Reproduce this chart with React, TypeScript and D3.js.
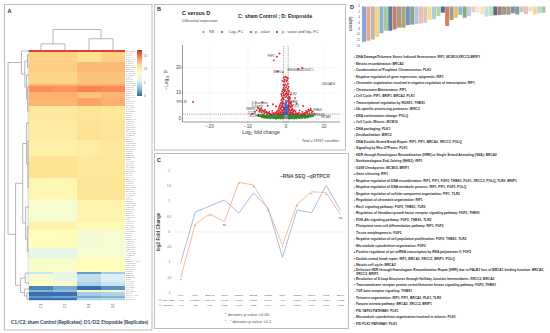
import React, { useEffect, useRef } from 'react';
import * as d3 from 'd3';

// ---- heatmap (panel A)
const heatColumns = ['C1', 'C2', 'D1', 'D2'];
const heatBandRows = [1, 5, 5, 6, 1, 3, 3, 4, 7, 10, 8, 11, 11, 11, 4, 9, 5, 7, 1, 4, 2, 2, 1, 2, 1, 1];
const heatBandC1 = [17, 12.2, 12.3, 12.1, 13.2, 14.6, 13.4, 13.2, 10.9, 10.7, 10.2, 11.4, 9.6, 7.9, 10, 9, 6.6, 8.2, 5, 8, 8.4, 1, 2.5, 0.4, 1.6, 0.4];
const heatBandC2 = [17, 12.2, 12.3, 12.1, 13.2, 14.4, 13.4, 13.2, 10.9, 10.7, 10.2, 11.4, 9.6, 7.9, 10, 9, 6.6, 8.2, 6.6, 6.8, 8.4, 2.2, 3, 0.4, 2, 0.4];
const heatBandD1 = [17, 11.5, 13, 12.7, 13.4, 14.9, 12.7, 13.8, 11.3, 11.5, 10.5, 10.9, 11.1, 9.8, 9.3, 7.7, 7.9, 9, 1.8, 4.6, 4, 0.3, 8.6, 3.6, 2.2, 4];
const heatBandD2 = [17, 12.2, 13, 12.7, 13.4, 14.7, 13.2, 13.4, 10.9, 11.3, 10.9, 10.9, 11.1, 9.8, 9.3, 7.9, 8, 9, 3.6, 5.6, 5, 1.4, 7.6, 4, 2.6, 4.2];
const heatLegendTicks = [0, 5, 10, 15];
const heatStops = ['#2b62ab', '#91bfdb', '#e0f3f8', '#ffffbf', '#fee090', '#fc8d59', '#d73027'];
const heatGenes = ['CCNB1', 'RIF1', 'PIF1', 'KIF4A', 'BRCA2', 'TOP2A', 'FGF2', 'MKI67', 'MCM10', 'CDK1', 'BIRC2', 'AURKB', 'THBS1', 'TTK', 'PLK1', 'BUB1', 'XRCC2', 'NCAPG', 'POLQ', 'ESPL1', 'TLR2', 'E2F8', 'BRIP1', 'CENPF', 'DTL', 'HMMR', 'KIF11', 'NUF2', 'RAD51', 'TPX2'];

type TreeNode = number | { h: number; kids: TreeNode[] };
const node = (h: number, ...kids: TreeNode[]): TreeNode => ({ h, kids });
const rowTree = node(1,
  node(0.36, 0,
    node(0.2,
      node(0.07, 2, 8),
      node(0.12, 12, node(0.06, 18, 30)))),
  node(0.64,
    node(0.3,
      node(0.12, 36, node(0.05, 45, 68)),
      node(0.16, 78, node(0.08, 88, 100))),
    node(0.4,
      node(0.18, 111, 116),
      node(0.22, 119, node(0.1, 121, 124)))));
const colTree = node(1, node(0.3, 0, 1), node(0.55, 2, 3));

// ---- volcano (panel B)
const volcanoTicksX = [-20, -10, 0, 10];
const volcanoTicksY = [0, 10, 20];
const volcanoLegend = ['NS', 'Log\u2082 FC', 'p - value', 'p - value and log\u2082 FC'];
const volcanoColors = ['#8a8a8a', '#2e8b2e', '#3f5fc0', '#e01f26'];
const nsPoints: [number, number][] = [[-0.4, 0.3], [-0.3, 0.6], [-0.2, 0.2], [-0.1, 0.9], [0, 0.4], [0.1, 0.7], [0.2, 0.1], [0.3, 0.5], [0.45, 0.8], [-0.5, 1]];
const greenPoints: [number, number][] = [
  [-7.2, 1.3], [-6.9, 1], [-6.6, 1.2], [-6.3, 0.7], [-6.1, 1], [-5.8, 0.5], [-5.6, 0.9], [-5.3, 0.4], [-5.1, 0.8], [-4.8, 0.3],
  [-4.6, 0.7], [-4.3, 1.1], [-4.1, 0.2], [-3.8, 0.6], [-3.6, 1], [-3.3, 0.2], [-3.1, 0.5], [-2.8, 0.9], [-2.6, 0.1], [-2.4, 0.5],
  [-2.2, 1.2], [-2, 0.2], [-1.8, 0.7], [-1.6, 1.1], [-1.4, 0.1], [-1.2, 0.5], [-1, 0.9], [-0.8, 0.2], [-0.7, 0.6], [-0.65, 1.2],
  [0.65, 1.1], [0.7, 0.4], [0.85, 0.8], [1, 0.1], [1.2, 0.6], [1.4, 1.1], [1.6, 0.2], [1.8, 0.7], [2, 1.2], [2.2, 0.1],
  [2.4, 0.6], [2.6, 1], [2.8, 0.2], [3, 0.7], [3.2, 1.2], [3.5, 0.3], [3.7, 0.8], [3.9, 1.1], [4.2, 0.3], [4.4, 0.8],
  [4.7, 1.1], [4.9, 0.4], [5.2, 0.9], [5.4, 0.5], [5.7, 1], [5.9, 0.7], [6.2, 1.2], [6.5, 0.9], [6.8, 1.3], [7.1, 1.1],
  [-6, 1.4], [-5, 1.3], [-4, 1.4], [-3, 1.3], [-2, 1.5], [-1, 1.4], [1, 1.4], [2, 1.5], [3, 1.4], [4, 1.4], [5, 1.3], [6, 1.4],
];
const bluePoints: [number, number][] = [
  [-0.5, 1.8], [-0.45, 2.6], [-0.4, 3.4], [-0.35, 4.4], [-0.3, 2], [-0.25, 5.2], [-0.2, 3], [-0.15, 6.1], [-0.1, 2.4], [-0.05, 4.1],
  [0, 7], [0.05, 3.2], [0.1, 5.6], [0.15, 2.1], [0.2, 4.6], [0.25, 6.6], [0.3, 2.8], [0.35, 3.8], [0.4, 5], [0.45, 1.9], [0.5, 2.9],
  [-0.4, 1.6], [-0.2, 1.7], [0, 1.8], [0.2, 1.6], [0.4, 1.7], [-0.1, 5.4], [0.1, 6.4], [-0.3, 3.9], [0.3, 4.3],
  [0, 2.5], [0, 3.5], [0, 4.6], [0, 5.8], [-0.2, 4.2], [0.2, 3.4], [-0.4, 2.4], [0.4, 2.4],
];
const redPoints: [number, number][] = [
  [-24.4, 6.5], [11.7, 13.5], [-2.4, 24.2], [-3.2, 22.8], [-1.7, 25.5], [-2.2, 18.4], [-0.8, 18.2], [3.2, 19.4], [4.3, 19.8],
  [-0.9, 14.8], [-0.7, 13.2], [-0.5, 14.4], [-0.3, 15.2], [-0.2, 13.4], [0.1, 14.6], [0.3, 15], [0.5, 13.6], [-0.6, 12], [-0.3, 11.4], [0, 12.2],
  [0.4, 11.6], [0.7, 12.4], [-1, 10.6], [-0.7, 10], [-0.4, 10.8], [-0.1, 9.6], [0.2, 10.4], [0.6, 9.8], [0.9, 10.6], [-1.1, 8.8],
  [-0.8, 8.2], [-0.5, 9], [-0.2, 8.4], [0.1, 8.8], [0.4, 8.2], [0.8, 8.6], [1.1, 8.2], [-1.2, 7.2], [-0.9, 6.6], [-0.6, 7.4],
  [0.6, 7.2], [0.9, 6.8], [1.3, 6.4], [-1.4, 5.8], [-1, 5.2], [-0.7, 6], [0.7, 5.6], [1, 5], [1.4, 5.6], [-1.7, 4.6],
  [-1.3, 4.2], [-0.9, 4.8], [-0.6, 3.8], [0.6, 4.2], [0.9, 3.6], [1.3, 4.4], [1.7, 3.8], [-2.1, 3.2], [-1.7, 3], [-1.3, 2.6],
  [-0.9, 3], [-0.7, 2.2], [0.7, 2.6], [1, 2.1], [1.4, 3], [1.8, 2.4], [2.2, 3.2], [-2.6, 2.4], [-2.2, 2], [-1.9, 1.8],
  [-1.5, 1.7], [-1.1, 1.7], [1.2, 1.7], [1.6, 1.8], [2.1, 1.8], [2.6, 2.2], [-3, 1.9], [-3.4, 2.2], [3, 1.9], [3.4, 2.3],
  [-3.7, 1.5], [-4, 1.7], [-4.3, 1.9], [-4.6, 2.1], [-4.9, 2.3], [-5.1, 2.6], [-5.4, 2.4], [-5.6, 2.9], [-5.9, 2.7], [-6.1, 3.1],
  [-6.3, 3.4], [-6.6, 3], [-6.8, 3.6], [-7.1, 3.9], [-7.4, 4.2], [-4.2, 1.5], [-5, 1.7], [-5.7, 2], [-6.4, 2.4], [-7, 2.6],
  [3.8, 1.6], [4.2, 1.7], [4.6, 1.9], [4.9, 2.1], [5.2, 2.3], [5.5, 2.5], [5.8, 2.8], [6.1, 3], [6.4, 3.3], [6.7, 3.1],
  [7, 2.7], [4.4, 1.5], [5, 1.6], [5.6, 1.8], [6.2, 2.1], [6.8, 2.2], [-6.2, 6.4], [-3.4, 5.6], [-2.6, 4.8], [2.8, 5.8],
  [4.5, 4.9], [-4.8, 5], [2.4, 8], [-8.2, 2.6], [7.4, 1.9], [-8.8, 1.9],
  [-0.6, 16], [-0.2, 16.4], [0.2, 16.1], [0.5, 15.8], [-0.4, 12.8], [0.2, 12.9], [-0.8, 11.3], [0.6, 11], [-0.2, 11], [0.1, 9.8],
  [-0.6, 9.2], [0.5, 9.3], [-1, 7.8], [-0.7, 7.8], [0.7, 7.9], [1, 7.6], [-1.2, 6.2], [-0.8, 5.8], [0.8, 6.2], [1.2, 6], [-1.6, 5.2],
  [-1.1, 4.6], [-0.7, 4.4], [0.7, 4.8], [1.1, 4.5], [1.6, 4.9], [-1.9, 3.9], [-1.5, 3.6], [-1.1, 3.4], [-0.7, 3.2], [0.7, 3.3], [1.1, 3.1],
  [1.5, 3.5], [1.9, 3.2], [-2.4, 2.8], [-1.9, 2.5], [-1.5, 2.2], [-1, 2.4], [1.1, 2.5], [1.5, 2.3], [2, 2.7], [2.5, 2.9], [-2.8, 2.2],
  [-3.2, 1.7], [-2.4, 1.7], [2.4, 1.7], [2.9, 1.7], [3.3, 1.8], [-1.2, 9.6], [1.2, 9.4], [-3.6, 3], [3.6, 3.2], [-4.4, 2.6], [4.3, 2.6],
  [-5.5, 3.4], [-6.5, 4.1], [5.3, 3], [5.9, 3.5], [6.5, 3.8], [-7.7, 3.2], [-6.9, 3.1],
];
const volcanoLabels: [string, number, number, string][] = [
  ['FGF2', -3, 24.3, 'end'], ['NRIP2', -1.2, 18.3, 'end'], ['ENSG00000235437.1', 0.4, 18.9, 'start'], ['LINC01704', 9.4, 13.4, 'start'],
  ['RP11-81', -26, 6.2, 'end'], ['IL-Braunstein', -9, 6.1, 'start'], ['IL-Kaurin', -9, 4.9, 'start'], ['TLR2', 1.1, 9.4, 'start'], ['THBS1', 0.9, 6.3, 'start'],
  ['ZNF891', -10.5, 3.6, 'start'], ['CCL11', -10, 2.2, 'start'], ['PCDH9', -9.5, 0.9, 'start'], ['POLQ', 1.5, 4.9, 'start'], ['SPAG5', 7.2, 3.4, 'start'], ['MIR4435', 7.4, 1.3, 'start'], ['HOXB9', 9.3, 0.5, 'start'],
];

// ---- qPCR vs RNA seq (panel C)
const lineGenes = ['PIF1', 'RIF1', 'BRCA2', 'FGF2', 'MCM10', 'BIRC2', 'THBS1', 'PLK1', 'XRCC2', 'POLQ', 'TLR2', 'BRIP1'];
const rnaSeq = [-1, 0.65, 0.85, 1.05, 0.62, 1.28, 0.79, -0.83, 0.72, 0.63, 1.53, 0.7];
const qPcr = [-1.5, 0.26, 0.59, 0.34, 1.63, 1.54, 0.75, -0.43, 0.91, 1.32, 1.29, 0.56];
const rnaSeqText = ['-1.00', '0.638699', '0.804499', '1.0498', '0.6137', '1.2797', '0.7976', '-0.8', '0.7033', '0.6485', '1.537', '0.7180'];
const qPcrText = ['-1.5', '0.26', '0.57', '0.355', '1.615', '1.529', '0.743', '-0.39', '0.8966', '1.334', '1.291', '0.572'];
const lineMarks = ['*', '*', '*', 'ns', '*', '*', '*', '*', '*', '*', '*', 'ns'];
const lineTicks = [-2, -1.5, -1, -0.5, 0, 0.5, 1, 1.5, 2];

// ---- enrichment (panel D)
const enrichValues = [-12.5, -12.1, -11.7, -10.8, -9.5, -8.6, -8.6, -8.1, -7.5, -7.5, -6.6, -6.4, -6.2, -6, -5.7, -4.8, -4.5, -3.4, -2.2, -6.9, -4.8, -4, -2.9, -4, -3.4, -2, -2.2, -2.7, -3.6, -3.4, -3.1, -3, -2.9, -2.9, -2.4, -2.8, -2, -2.7, -1.7, -2.9, -2.4, -2.2];
const enrichColors = ['#86a5d8', '#eaa68c', '#bdb6aa', '#f6d27c', '#8ab2de', '#a3cd90', '#5f7ba3', '#c77e62', '#a39c8c', '#b39f6a', '#6f93c4', '#8da58a', '#abc6e6', '#f0bda6', '#d0cbc0', '#f8dc92', '#a6cfe0', '#b4d6a0', '#4a6ea8', '#d97f5c', '#9c9c94', '#e8c468', '#8db4e0', '#86b070', '#b8cdea', '#f6c8b0', '#f0ecd8', '#faeaaa', '#c4dcf0', '#c2e0b4', '#56688c', '#a87c68', '#9c9688', '#a89c70', '#7c94b4', '#8a9c84', '#b4c8e4', '#f2c0a8', '#e4e0d4', '#f8dc88', '#b8d8dc', '#a4cc90'];
const enrichTicks = [0, -2, -4, -6, -8, -10, -12, -14];
const enrichTerms = [
  'DNA Damage/Telomere Stress Induced Senescence: RIF1, MCM10,XRCC2,BRIP1',
  'Meiotic recombination: BRCA2',
  'Condensation of Prophase Chromosomes: PLK1',
  'Negative regulation of gene expression, epigenetic: RIF1',
  'Chromatin organization involved in negative regulation of transcription: RIF1',
  'Chromosome Maintenance: PIF1',
  'Cell Cycle: PIF1, BRIP1, BRCA2, PLK1',
  'Transcriptional regulation by RUNX1: THBS1',
  'Ub-specific processing proteases: BIRC2',
  'DNA conformation change: POLQ',
  'Cell Cycle, Mitosis: MCM10',
  'DNA packaging: PLK1',
  'Decidualization: BIRC2',
  'DNA Double-Strand Break Repair: RIF1, PIF1, BRCA2, XRCC2, POLQ',
  'Signaling by Rho GTPases: PLK1',
  'HDR through Homologous Recombination (HRR) or Single Strand Annealing (SSA): BRCA2',
  'Nonhomologous End-Joining (NHEJ): RIF1',
  'G2/M Checkpoints: MCM10, BRIP1',
  'Gene silencing: RIF1',
  'Negative regulation of DNA recombination: RIF1, PIF1, FGF2, THBS1, PLK1, XRCC2, POLQ, TLR2, BRIP1',
  'Negative regulation of DNA metabolic process: RIF1, PIF1, FGF2, POLQ',
  'Negative regulation of cellular component organization: PIF1, TLR2',
  'Regulation of chromatin organization: RIF1',
  'Ras1 signaling pathway: FGF2, THBS1, TLR2',
  'Regulation of fibroblast growth factor receptor signaling pathway: FGF2, THBS1',
  'PI3K-Akt signaling pathway: FGF2, THBS1, TLR2',
  'Pluripotent stem cell differentiation pathway: RIF1, FGF2',
  'Tissue morphogenesis: FGF2',
  'Negative regulation of cell population proliferation: FGF2, THBS1, TLR2',
  'Microtubule cytoskeleton organization: FGF2',
  'Positive regulation of pri-miRNA transcription by RNA polymerase II: FGF2',
  'Double-strand break repair: RIF1, BRCA2, XRCC2, BRIP1, POLQ',
  'Meiotic cell cycle: BRCA2',
  'Defective HDR through Homologous Recombination Repair (HRR) due to PALB2 loss of BRCA1 binding function: BRCA2,',
  'Resolution of D-loop Structures through Holliday Junction Intermediates: XRCC2, BRCA2',
  'Transmembrane receptor protein serine/threonine kinase signaling pathway: FGF2, THBS1',
  'TGF-beta receptor signaling: THBS1',
  'Telomere organization: RIF1, PIF1, BRCA2, PLK1, TLR2',
  'Fanconi anemia pathway: BRCA2, XRCC2, BRIP1',
  'PID TAP63 PATHWAY: PLK1',
  'Microtubule cytoskeleton organization involved in mitosis: PLK1',
  'PID PLK1 PATHWAY: PLK1',
];

const SANS = '"Liberation Sans", Arial, sans-serif';
const panelBorder = '#bdbdbd';

const App = () => {
  const svgRef = useRef<SVGSVGElement>(null);

  useEffect(() => {
    const svg = d3.select(svgRef.current);
    svg.selectAll('*').remove();
    svg.style('font-family', SANS);

    const addText = (g: any, x: number, y: number, s: string, size: number, opts: any = {}) =>
      g.append('text')
        .attr('x', x)
        .attr('y', y)
        .attr('font-size', size)
        .attr('font-weight', opts.bold ? 'bold' : 'normal')
        .attr('fill', opts.fill || '#333')
        .attr('text-anchor', opts.anchor || 'start')
        .attr('dominant-baseline', 'middle')
        .text(s);

    // panel frames
    const frames = [[4.5, 4.5, 147.5, 325.5], [154.5, 4.5, 191, 145.5], [154.5, 153.5, 194, 175]];
    frames.forEach(f => {
      svg.append('rect')
        .attr('x', f[0]).attr('y', f[1]).attr('width', f[2]).attr('height', f[3])
        .attr('fill', 'none').attr('stroke', panelBorder).attr('stroke-width', 1);
    });

    drawHeatmap(svg, addText);
    drawVolcano(svg, addText);
    drawLines(svg, addText);
    drawEnrichment(svg, addText);
  }, []);

  const drawHeatmap = (svg: any, addText: any) => {
    const g = svg.append('g');
    addText(g, 7.5, 12, 'A', 5.5, { bold: true, fill: '#222' });

    const color = d3.scaleLinear<string>()
      .domain(heatStops.map((_, i) => (17.5 * i) / (heatStops.length - 1)))
      .range(heatStops);

    const rowTotal = d3.sum(heatBandRows);
    const y = d3.scaleLinear().domain([0, rowTotal]).range([50, 300]);
    const x = d3.scaleBand().domain(heatColumns).range([29, 125]);
    const series = [heatBandC1, heatBandC2, heatBandD1, heatBandD2];

    let start = 0;
    heatBandRows.forEach((count, b) => {
      heatColumns.forEach((c, ci) => {
        g.append('rect')
          .attr('x', x(c))
          .attr('y', y(start))
          .attr('width', x.bandwidth())
          .attr('height', y(start + count) - y(start) + 0.2)
          .attr('fill', color(series[ci][b]));
      });
      start += count;
    });

    // gene labels
    d3.range(rowTotal).forEach(i => {
      const label = heatGenes[i % heatGenes.length];
      addText(g, 126, y(i + 0.5), i % 17 === 3 && i > 100 ? label + '-AS1' : label, 2.5, { fill: '#8a8a8a' })
        .attr('letter-spacing', 0.2);
    });

    // dendrograms
    const drawTree = (tree: TreeNode, px: any, py: any) => {
      const path = d3.path();
      const walk = (t: TreeNode): [number, number] => {
        if (typeof t === 'number') return [0, py(t)];
        const kids = t.kids.map(walk);
        const top = Math.min(...kids.map(k => k[1]));
        const bottom = Math.max(...kids.map(k => k[1]));
        kids.forEach(k => {
          px.line(path, k[0], k[1], t.h, k[1]);
        });
        px.line(path, t.h, top, t.h, bottom);
        return [t.h, (top + bottom) / 2];
      };
      walk(tree);
      g.append('path').attr('d', path.toString()).attr('fill', 'none').attr('stroke', '#9a9a9a').attr('stroke-width', 0.7);
    };

    const rowH = d3.scaleLinear().domain([0, 1]).range([29, 8]);
    const rowLine = { line: (p: any, h0: number, v0: number, h1: number, v1: number) => { p.moveTo(rowH(h0), v0); p.lineTo(rowH(h1), v1); } };
    drawTree(rowTree, rowLine, (r: number) => y(r + 0.5));

    const colH = d3.scaleLinear().domain([0, 1]).range([50, 29.5]);
    const colLine = { line: (p: any, h0: number, v0: number, h1: number, v1: number) => { p.moveTo(v0, colH(h0)); p.lineTo(v1, colH(h1)); } };
    drawTree(colTree, colLine, (c: number) => (x(heatColumns[c]) as number) + x.bandwidth() / 2);

    // short leaf ticks next to the heatmap
    d3.range(rowTotal).forEach(i => {
      g.append('line')
        .attr('x1', 27.6).attr('x2', 29).attr('y1', y(i + 0.5)).attr('y2', y(i + 0.5))
        .attr('stroke', i < 104 ? '#555' : '#888').attr('stroke-width', 0.4);
    });

    // colour key
    const keyY = d3.scaleLinear().domain([0, 17.5]).range([96, 50]);
    const grad = svg.append('defs').append('linearGradient').attr('id', 'heatKey')
      .attr('x1', 0).attr('x2', 0).attr('y1', 1).attr('y2', 0);
    heatStops.forEach((c, i) => {
      grad.append('stop').attr('offset', i / (heatStops.length - 1)).attr('stop-color', c);
    });
    g.append('rect').attr('x', 137).attr('y', keyY(17.5)).attr('width', 5).attr('height', keyY(0) - keyY(17.5)).attr('fill', 'url(#heatKey)');
    heatLegendTicks.forEach(t => addText(g, 144, keyY(t), String(t), 2.8, { fill: '#555' }));

    // column labels + caption
    heatColumns.forEach(c => {
      const cx = (x(c) as number) + x.bandwidth() / 2;
      g.append('text')
        .attr('transform', `translate(${cx},306) rotate(-90)`)
        .attr('font-size', 3.4).attr('fill', '#666').attr('text-anchor', 'middle').attr('dominant-baseline', 'middle')
        .text(c);
    });
    addText(g, 11, 323, 'C1/C2: sham Control (Replicates); D1/D2: Etoposide (Replicates)', 5, { bold: true, fill: '#2f4356' })
      .attr('textLength', 137).attr('font-family', 'Lato');
  };

  const drawVolcano = (svg: any, addText: any) => {
    const g = svg.append('g');
    addText(g, 157, 9.5, 'B', 5.5, { bold: true, fill: '#222' });
    addText(g, 182, 14, 'C versus D', 5.4, { bold: true, fill: '#222' });
    addText(g, 182, 21, 'Differential expression', 3.6, { fill: '#444' });
    addText(g, 238, 17, 'C: sham Control ; D: Etoposide', 5, { bold: true, fill: '#222' });

    const x = d3.scaleLinear().domain([-25.2, 14.2]).range([190, 340]);
    const y = d3.scaleLinear().domain([0, 20]).range([118.5, 67.5]);
    const xRange = [182.5, 340];
    const yRange = [122, 45];

    volcanoTicksX.forEach(t => {
      g.append('line').attr('x1', x(t)).attr('x2', x(t)).attr('y1', yRange[0]).attr('y2', yRange[1]).attr('stroke', '#ececec').attr('stroke-width', 0.5);
    });
    volcanoTicksY.forEach(t => {
      g.append('line').attr('x1', xRange[0]).attr('x2', xRange[1]).attr('y1', y(t)).attr('y2', y(t)).attr('stroke', '#ececec').attr('stroke-width', 0.5);
    });

    const dots = (pts: [number, number][], fill: string, r: number) => {
      g.append('g').selectAll('circle').data(pts).enter().append('circle')
        .attr('cx', (d: [number, number]) => x(d[0]))
        .attr('cy', (d: [number, number]) => y(d[1]))
        .attr('r', r)
        .attr('fill', fill);
    };
    dots(greenPoints, volcanoColors[1], 1.3);
    dots(nsPoints, volcanoColors[0], 0.9);
    dots(redPoints, volcanoColors[3], 0.95);
    dots(bluePoints, volcanoColors[2], 0.9);

    // cut-off lines
    [-0.6, 0.6].forEach(v => {
      g.append('line').attr('x1', x(v)).attr('x2', x(v)).attr('y1', yRange[0]).attr('y2', yRange[1])
        .attr('stroke', '#444').attr('stroke-width', 0.5).attr('stroke-dasharray', '1.2,1');
    });
    g.append('line').attr('x1', xRange[0]).attr('x2', xRange[1]).attr('y1', y(1.7)).attr('y2', y(1.7))
      .attr('stroke', '#444').attr('stroke-width', 0.5).attr('stroke-dasharray', '1.2,1');

    volcanoLabels.forEach(l => {
      addText(g, x(l[1]), y(l[2]), l[0], 2.7, { fill: '#333', anchor: l[3] });
    });

    // axes
    g.append('path').attr('d', `M${xRange[0]},${yRange[1]}V${yRange[0]}H${xRange[1]}`).attr('fill', 'none').attr('stroke', '#555').attr('stroke-width', 0.6);
    volcanoTicksX.forEach(t => {
      g.append('line').attr('x1', x(t)).attr('x2', x(t)).attr('y1', yRange[0]).attr('y2', yRange[0] + 1).attr('stroke', '#555').attr('stroke-width', 0.5);
      addText(g, x(t), 126.5, t < 0 ? '\u2212' + Math.abs(t) : String(t), 4.6, { anchor: 'middle', fill: '#444' });
    });
    volcanoTicksY.forEach(t => {
      g.append('line').attr('x1', xRange[0] - 1).attr('x2', xRange[0]).attr('y1', y(t)).attr('y2', y(t)).attr('stroke', '#555').attr('stroke-width', 0.5);
      addText(g, 181, y(t), String(t), 4.6, { anchor: 'end', fill: '#444' });
    });
    addText(g, 261, 133, 'Log\u2082 fold change', 5, { anchor: 'middle', fill: '#333' });
    g.append('text')
      .attr('transform', 'translate(167,80) rotate(-90)')
      .attr('font-size', 5).attr('fill', '#333').attr('text-anchor', 'middle').attr('dominant-baseline', 'middle')
      .text('\u2212Log\u2081\u2080 P');
    addText(g, 339, 141, 'Total = 19937 variables', 3.6, { anchor: 'end', fill: '#444' });

    // legend
    const legendDot = [203.5, 222, 251, 277];
    const legendText = [209, 229, 255, 282];
    volcanoLegend.forEach((s, i) => {
      g.append('circle').attr('cx', legendDot[i]).attr('cy', 32).attr('r', 1.1).attr('fill', volcanoColors[i]);
      addText(g, legendText[i], 32, s, 3.9, { fill: '#444' });
    });
  };

  const drawLines = (svg: any, addText: any) => {
    const g = svg.append('g');
    addText(g, 157, 161, 'C', 5.5, { bold: true, fill: '#222' });

    const x = d3.scalePoint().domain(lineGenes).range([180.7, 340.7]);
    const y = d3.scaleLinear().domain([-2, 2]).range([293, 171]);

    g.append('line').attr('x1', 173).attr('x2', 346).attr('y1', y(0)).attr('y2', y(0)).attr('stroke', '#e4e4e4').attr('stroke-width', 0.5);
    lineTicks.forEach(t => addText(g, 169, y(t), String(t), 2.9, { anchor: 'middle', fill: '#555' }));
    g.append('text')
      .attr('transform', `translate(159,${y(0)}) rotate(-90)`)
      .attr('font-size', 4.6).attr('font-weight', 'bold').attr('fill', '#444').attr('text-anchor', 'middle').attr('dominant-baseline', 'middle')
      .text('log2 Fold Change');

    const line = d3.line<number>()
      .x((_, i) => x(lineGenes[i]) as number)
      .y(d => y(d));
    g.append('path').attr('d', line(rnaSeq)).attr('fill', 'none').attr('stroke', '#9db4dc').attr('stroke-width', 0.9);
    g.append('path').attr('d', line(qPcr)).attr('fill', 'none').attr('stroke', '#f2b48c').attr('stroke-width', 0.9);

    lineMarks.forEach((m, i) => {
      addText(g, x(lineGenes[i]) as number, y(qPcr[i]) + (m === 'ns' ? 3.5 : 3), m, m === 'ns' ? 3 : 4, { anchor: 'middle', fill: '#333' });
    });

    addText(g, 280, 177, '\u2013RNA SEQ  \u2013qRTPCR', 5, { bold: true, fill: '#555' });

    // data table below the plot
    lineGenes.forEach((gene, i) => {
      const cx = x(gene) as number;
      addText(g, cx, 295, gene, 2.5, { anchor: 'middle', fill: '#444' });
      addText(g, cx, 300, rnaSeqText[i], 2.5, { anchor: 'middle', fill: '#444' });
      addText(g, cx, 305, qPcrText[i], 2.5, { anchor: 'middle', fill: '#444' });
    });
    g.append('line').attr('x1', 158).attr('x2', 162).attr('y1', 300).attr('y2', 300).attr('stroke', '#9db4dc').attr('stroke-width', 0.7);
    g.append('line').attr('x1', 158).attr('x2', 162).attr('y1', 305).attr('y2', 305).attr('stroke', '#f2b48c').attr('stroke-width', 0.7);
    addText(g, 163, 300, 'RNA-SEQ', 2.5, { fill: '#444' });
    addText(g, 163, 305, 'qRTPCR', 2.5, { fill: '#444' });

    addText(g, 225, 315, '* denotes p value <0.05', 4.2, { fill: '#555' });
    addText(g, 225, 322, '\u201c . \u201d denotes p value <0.1', 4.2, { fill: '#555' });
  };

  const drawEnrichment = (svg: any, addText: any) => {
    const g = svg.append('g');
    addText(g, 350, 8, 'D', 5.5, { bold: true, fill: '#222' });

    const bars = enrichValues.map((v, i) => ({ v, i }));
    const x = d3.scaleBand<number>().domain(bars.map(b => b.i)).range([362, 545.5]).paddingInner(0.08);
    const y = d3.scaleLinear().domain([0, -14]).range([6.5, 46]);

    g.selectAll('.bar').data(bars).enter().append('rect')
      .attr('class', 'bar')
      .attr('x', (d: any) => x(d.i))
      .attr('y', y(0))
      .attr('width', x.bandwidth())
      .attr('height', (d: any) => y(d.v) - y(0))
      .attr('fill', (d: any) => enrichColors[d.i]);

    enrichTicks.forEach(t => addText(g, 360, y(t), String(t), 2.6, { anchor: 'end', fill: '#444' }));
    g.append('text')
      .attr('transform', 'translate(351.5,24) rotate(-90)')
      .attr('font-size', 3.2).attr('font-weight', 'bold').attr('fill', '#444').attr('text-anchor', 'middle').attr('dominant-baseline', 'middle')
      .text('LOG10(P)');

    const rowY = d3.scaleLinear().domain([0, enrichTerms.length - 1]).range([57.3, 323.8]);
    enrichTerms.forEach((term, i) => {
      // the long wrapped term sits a little higher so its second line stays clear of the next one
      const ty = i === 33 ? rowY(i) - 1.2 : i === 34 ? rowY(i) + 0.8 : rowY(i);
      g.append('circle').attr('cx', 354.5).attr('cy', ty).attr('r', 0.8).attr('fill', enrichColors[i]);
      const t = addText(g, 356, ty, term, 3.25, { bold: true, fill: '#2b2b2b' });
      if (i === 33) t.attr('textLength', 188).attr('lengthAdjust', 'spacingAndGlyphs');
    });
    addText(g, 356, rowY(33) + 2.5, 'XRCC2, BRIP1', 3.25, { bold: true, fill: '#2b2b2b' });
  };

  return (
    <svg
      ref={svgRef}
      width={550}
      height={333}
      style={{ position: 'absolute', left: 0, top: 0, display: 'block', background: '#fff' }}
    />
  );
};

export default App;
